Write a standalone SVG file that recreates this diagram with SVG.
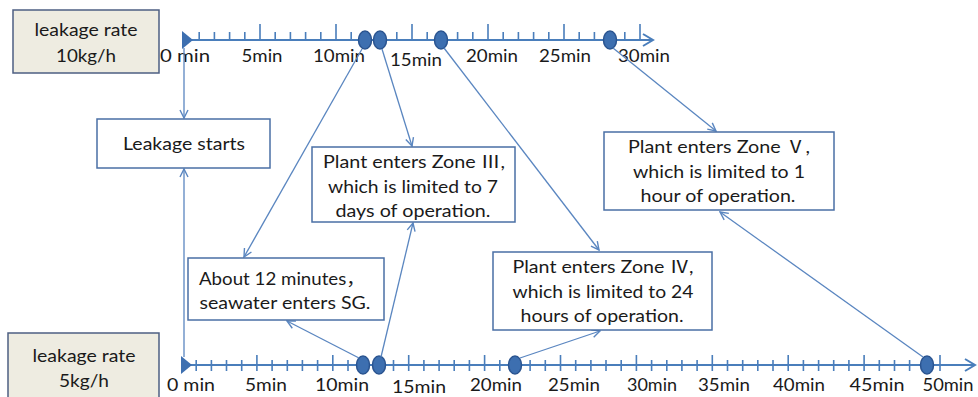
<svg xmlns="http://www.w3.org/2000/svg" width="978" height="397" viewBox="0 0 978 397">
<defs>
<style>
.t{font-family:Lato,"Liberation Sans","Noto Sans CJK SC",sans-serif;font-size:17.5px;fill:#1a1a1a;text-anchor:middle}
.ax{stroke:#4a7ebb;stroke-width:2;fill:none}
.tk{stroke:#4a7ebb;stroke-width:1.6}
.box{fill:#fff;stroke:#4a6fa5;stroke-width:1.5}
.lbox{fill:#eeece1;stroke:#4d5f82;stroke-width:1.5}
.dot{fill:#3d6fb0;stroke:#2a5490;stroke-width:1.5}
.c{stroke:#5a86c0;stroke-width:1.3;fill:none;marker-end:url(#ah)}
</style>
<marker id="ah" viewBox="0 0 10 10" refX="9" refY="5" markerWidth="10" markerHeight="10" markerUnits="userSpaceOnUse" orient="auto">
<path d="M1,1 L9,5 L1,9" fill="none" stroke="#5a86c0" stroke-width="1.4"/>
</marker>
</defs>

<g id="rate10">
<rect class="lbox" x="13" y="10" width="146" height="63"/>
<text class="t" x="86" y="36" textLength="103" lengthAdjust="spacingAndGlyphs">leakage rate</text>
<text class="t" x="86" y="62" textLength="60" lengthAdjust="spacingAndGlyphs">10kg/h</text>
</g>
<g id="rate5">
<rect class="lbox" x="8" y="333" width="151" height="70"/>
<text class="t" x="84" y="362" textLength="103" lengthAdjust="spacingAndGlyphs">leakage rate</text>
<text class="t" x="84" y="387" textLength="50" lengthAdjust="spacingAndGlyphs">5kg/h</text>
</g>

<g id="axis-top">
<line class="ax" x1="184" y1="40" x2="652" y2="40"/>
<path class="ax" d="M643,34 L653,40 L643,46"/>
<polygon points="182,31 193,40 182,49" fill="#3d6fb0"/>
<path class="tk" d="M199.2,32V40M214.4,32V40M229.6,32V40M244.8,32V40M260,24V40M275.2,32V40M290.4,32V40M305.6,32V40M320.8,32V40M336,24V40M351.2,32V40M366.4,32V40M381.6,32V40M396.8,32V40M412,24V40M427.2,32V40M442.4,32V40M457.6,32V40M472.8,32V40M488,24V40M503.2,32V40M518.4,32V40M533.6,32V40M548.8,32V40M564,24V40M579.2,32V40M594.4,32V40M609.6,32V40M624.8,32V40M640,24V40"/>
<text class="t" x="185" y="62" textLength="50" lengthAdjust="spacingAndGlyphs">0 min</text>
<text class="t" x="262" y="62" textLength="41" lengthAdjust="spacingAndGlyphs">5min</text>
<text class="t" x="339" y="62" textLength="52" lengthAdjust="spacingAndGlyphs">10min</text>
<text class="t" x="416" y="66" textLength="52" lengthAdjust="spacingAndGlyphs">15min</text>
<text class="t" x="492" y="62" textLength="52" lengthAdjust="spacingAndGlyphs">20min</text>
<text class="t" x="565" y="62" textLength="52" lengthAdjust="spacingAndGlyphs">25min</text>
<text class="t" x="644" y="62" textLength="52" lengthAdjust="spacingAndGlyphs">30min</text>
</g>

<g id="axis-bottom">
<line class="ax" x1="181" y1="365" x2="974" y2="365"/>
<path class="ax" d="M965,359 L975,365 L965,371"/>
<polygon points="181,356 192,365 181,374" fill="#3d6fb0"/>
<path class="tk" d="M196.2,360V371M211.4,360V371M226.5,360V371M241.7,360V371M256.9,355V371M272.1,360V371M287.3,360V371M302.4,360V371M317.6,360V371M332.8,355V371M348,360V371M363.2,360V371M378.3,360V371M393.5,360V371M408.7,355V371M423.9,360V371M439.1,360V371M454.2,360V371M469.4,360V371M484.6,355V371M499.8,360V371M515,360V371M530.1,360V371M545.3,360V371M560.5,355V371M575.7,360V371M590.9,360V371M606,360V371M621.2,360V371M636.4,355V371M651.6,360V371M666.8,360V371M681.9,360V371M697.1,360V371M712.3,355V371M727.5,360V371M742.7,360V371M757.8,360V371M773,360V371M788.2,355V371M803.4,360V371M818.6,360V371M833.7,360V371M848.9,360V371M864.1,355V371M879.3,360V371M894.5,360V371M909.6,360V371M924.8,360V371M940,355V371"/>
<text class="t" x="191" y="391" textLength="48" lengthAdjust="spacingAndGlyphs">0 min</text>
<text class="t" x="266" y="391" textLength="42" lengthAdjust="spacingAndGlyphs">5min</text>
<text class="t" x="342" y="391" textLength="54" lengthAdjust="spacingAndGlyphs">10min</text>
<text class="t" x="419" y="393" textLength="54" lengthAdjust="spacingAndGlyphs">15min</text>
<text class="t" x="496" y="391" textLength="52" lengthAdjust="spacingAndGlyphs">20min</text>
<text class="t" x="574" y="391" textLength="52" lengthAdjust="spacingAndGlyphs">25min</text>
<text class="t" x="652" y="391" textLength="50" lengthAdjust="spacingAndGlyphs">30min</text>
<text class="t" x="724" y="391" textLength="52" lengthAdjust="spacingAndGlyphs">35min</text>
<text class="t" x="799" y="391" textLength="52" lengthAdjust="spacingAndGlyphs">40min</text>
<text class="t" x="877" y="391" textLength="55" lengthAdjust="spacingAndGlyphs">45min</text>
<text class="t" x="948" y="391" textLength="51" lengthAdjust="spacingAndGlyphs">50min</text>
</g>

<g id="events">
<ellipse class="dot" cx="365" cy="40" rx="6.5" ry="9"/>
<ellipse class="dot" cx="380" cy="40" rx="6.5" ry="9"/>
<ellipse class="dot" cx="441" cy="40" rx="6.5" ry="9"/>
<ellipse class="dot" cx="610" cy="40" rx="6.5" ry="9"/>
<ellipse class="dot" cx="363" cy="365" rx="6.5" ry="9"/>
<ellipse class="dot" cx="379" cy="365" rx="6.5" ry="9"/>
<ellipse class="dot" cx="515" cy="365" rx="6.5" ry="9"/>
<ellipse class="dot" cx="927" cy="365" rx="6.5" ry="9"/>
</g>

<g id="connectors">
<line class="c" x1="184" y1="48" x2="184" y2="118"/>
<line class="c" x1="184" y1="357" x2="184" y2="169"/>
<line class="c" x1="362" y1="49" x2="244" y2="257"/>
<line class="c" x1="382" y1="49" x2="412" y2="146"/>
<line class="c" x1="444" y1="48" x2="599" y2="250"/>
<line class="c" x1="613" y1="48" x2="716" y2="131"/>
<line class="c" x1="359" y1="358" x2="287" y2="321"/>
<line class="c" x1="381" y1="357" x2="413" y2="223"/>
<line class="c" x1="520" y1="358" x2="600" y2="331"/>
<line class="c" x1="923" y1="357" x2="720" y2="212"/>
</g>

<g id="leak-start">
<rect class="box" x="97" y="119" width="173" height="49"/>
<text class="t" x="184" y="150" textLength="122" lengthAdjust="spacingAndGlyphs">Leakage starts</text>
</g>
<g id="zone3">
<rect class="box" x="312" y="147" width="203" height="75"/>
<text class="t" x="414" y="168" textLength="182" lengthAdjust="spacingAndGlyphs">Plant enters Zone Ⅲ,</text>
<text class="t" x="413" y="193" textLength="170" lengthAdjust="spacingAndGlyphs">which is limited to 7</text>
<text class="t" x="413" y="217" textLength="155" lengthAdjust="spacingAndGlyphs">days of operation.</text>
</g>
<g id="seawater">
<rect class="box" x="188" y="258" width="196" height="62"/>
<text class="t" x="282" y="285" textLength="166" lengthAdjust="spacingAndGlyphs">About 12 minutes，</text>
<text class="t" x="285" y="309" textLength="171" lengthAdjust="spacingAndGlyphs">seawater enters SG.</text>
</g>
<g id="zone5">
<rect class="box" x="604" y="132" width="230" height="78"/>
<text class="t" x="719" y="153" textLength="182" lengthAdjust="spacingAndGlyphs">Plant enters Zone Ⅴ,</text>
<text class="t" x="719" y="178" textLength="172" lengthAdjust="spacingAndGlyphs">which is limited to 1</text>
<text class="t" x="718" y="202" textLength="155" lengthAdjust="spacingAndGlyphs">hour of operation.</text>
</g>
<g id="zone4">
<rect class="box" x="493" y="252" width="219" height="78"/>
<text class="t" x="603" y="273" textLength="181" lengthAdjust="spacingAndGlyphs">Plant enters Zone Ⅳ,</text>
<text class="t" x="603" y="298" textLength="181" lengthAdjust="spacingAndGlyphs">which is limited to 24</text>
<text class="t" x="602" y="322" textLength="163" lengthAdjust="spacingAndGlyphs">hours of operation.</text>
</g>
</svg>
